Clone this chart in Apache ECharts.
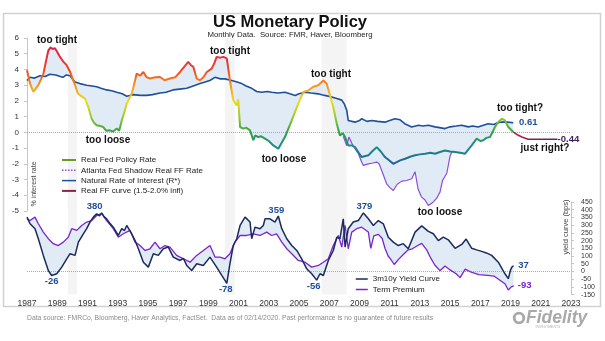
<!DOCTYPE html>
<html>
<head>
<meta charset="utf-8">
<script src="https://cdn.jsdelivr.net/npm/echarts@6/dist/echarts.min.js"></script>
<style>
html,body{margin:0;padding:0;background:#fff;}
#chart{width:605px;height:341px;}
</style>
</head>
<body>
<div id="chart"></div>
<script>
// ---- axis ticks ----
const xTickLabels = [1987,1989,1991,1993,1995,1997,1999,2001,2003,2005,2007,2009,2011,2013,2015,2017,2019,2021,2023];

// shaded recession periods [start, end] on the time axis
const recessions = [[1989.7,1990.3],[2000.1,2000.75],[2006.5,2008.15]];

// ---- top panel: rates in % ----
const realFedPolicyRate = [
  [1987.00,3.95],[1987.20,3.10],[1987.42,2.57],[1987.75,3.00],[1988.08,3.70],[1988.25,4.50],[1988.41,5.20],[1988.55,5.40],
  [1988.70,5.30],[1988.85,5.35],[1988.97,5.15],[1989.15,4.85],[1989.40,4.50],[1989.60,4.30],[1989.85,3.85],[1990.18,3.00],
  [1990.35,2.50],[1990.51,2.35],[1990.84,2.15],[1991.06,1.60],[1991.28,0.87],[1991.45,0.60],[1991.61,0.45],[1991.85,0.40],
  [1992.05,0.34],[1992.25,0.10],[1992.49,0.13],[1992.70,0.05],[1992.94,0.24],[1993.10,0.10],[1993.27,0.76],[1993.45,1.30],
  [1993.60,1.83],[1993.93,2.46],[1994.10,3.10],[1994.26,3.74],[1994.50,3.60],[1994.70,3.84],[1994.90,3.52],[1995.14,3.42],
  [1995.50,3.50],[1995.80,3.52],[1996.10,3.31],[1996.46,3.42],[1996.80,3.50],[1997.13,3.84],[1997.40,4.16],[1997.67,4.48],
  [1997.85,4.27],[1998.01,4.16],[1998.23,3.42],[1998.45,3.31],[1998.67,3.50],[1998.90,3.84],[1999.22,4.05],[1999.40,4.40],
  [1999.55,4.80],[1999.80,4.75],[1999.99,4.80],[2000.22,4.70],[2000.43,3.30],[2000.65,2.04],[2000.88,1.72],[2000.98,2.10],
  [2001.10,0.34],[2001.31,0.24],[2001.50,0.30],[2001.76,0.13],[2001.98,-0.50],[2002.10,-0.20],[2002.31,-0.30],[2002.50,-0.25],
  [2002.75,-0.40],[2003.00,-0.55],[2003.30,-0.83],[2003.63,-1.04],[2004.07,-0.30],[2004.52,0.76],[2004.95,1.83],[2005.29,2.57],
  [2005.62,2.67],[2005.95,2.90],[2006.28,3.00],[2006.45,3.15],[2006.61,3.30],[2006.83,3.10],[2007.05,2.36],[2007.27,1.60],
  [2007.50,0.55],[2007.71,-0.20],[2007.90,-0.05],[2008.05,-0.30],[2008.26,-0.83],[2008.49,-0.83],[2008.71,-0.94],[2008.95,-1.30],
  [2009.15,-1.57],[2009.59,-1.46],[2009.85,-1.20],[2010.14,-0.94],[2010.40,-1.20],[2010.69,-1.57],[2011.00,-1.80],[2011.24,-2.00],
  [2011.69,-1.78],[2012.02,-1.68],[2012.35,-1.55],[2012.68,-1.46],[2013.00,-1.40],[2013.34,-1.36],[2013.70,-1.30],[2014.00,-1.36],
  [2014.33,-1.25],[2014.66,-1.15],[2015.00,-1.22],[2015.33,-1.25],[2015.66,-1.30],[2015.99,-1.36],[2016.20,-1.10],[2016.43,-0.83],
  [2016.76,-0.40],[2017.00,-0.55],[2017.20,-0.50],[2017.40,-0.35],[2017.64,-0.30],[2017.97,0.34],[2018.19,0.66],[2018.42,0.87],
  [2018.63,0.76],[2018.85,0.34],[2019.18,0.02]
];

const naturalRate = [
  [1987.00,3.30],[1987.20,3.50],[1987.50,3.45],[1987.86,3.60],[1988.20,3.55],[1988.52,3.70],[1988.90,3.65],[1989.20,3.55],
  [1989.38,3.50],[1989.60,3.65],[1989.85,3.60],[1990.05,3.35],[1990.18,3.20],[1990.50,3.10],[1990.95,3.00],[1991.30,2.95],
  [1991.61,2.90],[1991.90,2.80],[1992.27,2.70],[1992.60,2.65],[1992.94,2.55],[1993.30,2.45],[1993.60,2.30],[1993.80,2.35],
  [1994.02,2.40],[1994.50,2.35],[1994.92,2.35],[1995.30,2.40],[1995.80,2.50],[1996.20,2.55],[1996.66,2.70],[1997.10,2.75],
  [1997.57,2.80],[1998.00,2.95],[1998.45,3.10],[1998.78,3.20],[1999.10,3.30],[1999.44,3.50],[1999.80,3.40],[2000.10,3.40],
  [2000.55,3.30],[2000.90,3.20],[2001.21,3.10],[2001.50,2.95],[2001.87,2.80],[2002.20,2.60],[2002.53,2.55],[2002.90,2.60],
  [2003.19,2.55],[2003.60,2.50],[2004.07,2.55],[2004.40,2.45],[2004.74,2.35],[2005.00,2.45],[2005.40,2.55],[2005.80,2.50],
  [2006.26,2.45],[2006.70,2.35],[2007.17,2.25],[2007.50,2.15],[2007.83,2.05],[2008.00,1.80],[2008.16,1.40],[2008.26,0.75],
  [2008.71,0.65],[2009.00,0.75],[2009.15,0.87],[2009.50,0.70],[2009.81,0.75],[2010.20,0.70],[2010.69,0.65],[2011.00,0.75],
  [2011.35,0.87],[2011.69,0.80],[2012.00,0.55],[2012.46,0.34],[2012.90,0.45],[2013.20,0.40],[2013.56,0.45],[2014.00,0.35],
  [2014.30,0.30],[2014.66,0.24],[2015.00,0.35],[2015.40,0.40],[2015.77,0.45],[2016.20,0.35],[2016.50,0.40],[2016.85,0.34],
  [2017.20,0.45],[2017.51,0.55],[2017.90,0.50],[2018.10,0.60],[2018.42,0.66],[2018.80,0.65],[2019.18,0.61]
];

const shadowRate = [
  [2007.93,-0.25],[2008.16,-0.85],[2008.30,-0.30],[2008.50,-0.70],[2008.70,-1.04],[2008.93,-1.36],[2009.15,-1.90],[2009.26,-2.10],
  [2009.59,-2.00],[2009.90,-1.95],[2010.14,-1.89],[2010.30,-2.00],[2010.47,-2.42],[2010.80,-3.27],[2011.00,-3.50],[2011.24,-3.70],
  [2011.50,-3.30],[2011.80,-3.10],[2012.13,-3.06],[2012.46,-2.95],[2012.68,-2.50],[2012.88,-3.60],[2013.10,-4.10],[2013.34,-4.30],
  [2013.56,-4.65],[2013.87,-4.44],[2014.10,-4.20],[2014.33,-3.80],[2014.50,-3.06],[2014.78,-2.60],[2015.00,-1.50],[2015.11,-1.25]
];

const realFFCurve = [[2019.18,0.02],[2019.45,-0.15],[2019.75,-0.30],[2020.16,-0.44],[2022.10,-0.44]];

// ---- bottom panel: yield curve in bps ----
const yieldCurve = [
  [1987.00,352],[1987.20,309],[1987.53,277],[1987.75,212],[1988.08,104],[1988.41,6],[1988.63,-26],[1988.97,-15],
  [1989.30,28],[1989.63,82],[1989.85,115],[1990.18,104],[1990.40,190],[1990.73,244],[1990.95,277],[1991.17,320],
  [1991.39,352],[1991.61,374],[1991.80,360],[1991.94,380],[1992.10,355],[1992.27,341],[1992.50,310],[1992.71,287],
  [1993.04,233],[1993.27,277],[1993.45,265],[1993.60,298],[1993.93,244],[1994.15,200],[1994.37,147],[1994.70,60],
  [1995.03,28],[1995.36,115],[1995.69,104],[1996.02,147],[1996.35,158],[1996.68,93],[1997.13,71],[1997.35,85],
  [1997.57,39],[1997.90,6],[1998.23,50],[1998.67,39],[1999.11,93],[1999.22,93],[1999.55,28],[1999.89,-26],
  [2000.10,-58],[2000.22,-78],[2000.43,50],[2000.65,168],[2000.88,212],[2001.10,298],[2001.43,352],[2001.76,320],
  [2001.87,212],[2002.09,287],[2002.42,277],[2002.64,298],[2002.75,341],[2003.08,341],[2003.41,320],[2003.63,359],
  [2003.86,277],[2004.19,212],[2004.52,168],[2004.85,136],[2005.18,82],[2005.51,17],[2005.84,-15],[2006.17,-56],
  [2006.39,-15],[2006.61,-26],[2006.94,71],[2007.27,136],[2007.50,222],[2007.71,212],[2007.93,341],[2008.05,158],
  [2008.26,277],[2008.59,320],[2008.93,330],[2009.10,355],[2009.26,379],[2009.59,341],[2009.92,298],[2010.25,330],
  [2010.58,309],[2010.91,222],[2011.24,190],[2011.57,168],[2011.90,180],[2012.23,147],[2012.68,255],[2013.12,295],
  [2013.56,260],[2013.89,244],[2014.22,200],[2014.55,222],[2014.88,205],[2015.33,150],[2015.77,175],[2016.06,210],
  [2016.43,150],[2016.75,140],[2017.09,130],[2017.40,120],[2017.75,104],[2018.19,60],[2018.63,-15],[2018.85,-47],
  [2019.00,10],[2019.10,30],[2019.20,37]
];

const termPremium = [
  [1987.00,341],[1987.20,330],[1987.53,352],[1987.75,309],[1988.08,255],[1988.41,212],[1988.74,180],[1989.07,168],
  [1989.40,190],[1989.73,222],[1989.96,277],[1990.29,266],[1990.62,298],[1990.95,320],[1991.28,330],[1991.61,363],
  [1991.94,375],[1992.27,330],[1992.71,277],[1993.04,222],[1993.37,244],[1993.82,266],[1994.15,190],[1994.48,168],
  [1994.81,136],[1995.14,147],[1995.47,190],[1995.80,147],[1996.13,168],[1996.46,158],[1996.90,104],[1997.35,82],
  [1997.79,60],[1998.23,104],[1998.67,136],[1999.11,168],[1999.44,93],[1999.77,93],[2000.10,82],[2000.43,115],
  [2000.76,190],[2001.10,233],[2001.54,233],[2001.98,244],[2002.42,233],[2002.86,255],[2003.19,233],[2003.52,244],
  [2003.86,190],[2004.19,147],[2004.52,115],[2004.95,71],[2005.40,60],[2005.84,28],[2006.28,39],[2006.61,60],
  [2006.94,82],[2007.27,168],[2007.60,233],[2007.83,158],[2008.05,298],[2008.26,147],[2008.49,255],[2008.82,277],
  [2009.15,287],[2009.59,255],[2009.75,150],[2009.95,230],[2010.25,240],[2010.50,215],[2010.69,150],[2010.90,100],
  [2011.10,75],[2011.30,45],[2011.60,80],[2011.90,110],[2012.23,140],[2012.50,147],[2012.80,165],[2013.12,182],
  [2013.45,140],[2013.70,90],[2014.00,40],[2014.33,5],[2014.66,35],[2015.00,10],[2015.40,-15],[2015.66,-40],
  [2016.00,15],[2016.40,-5],[2016.90,-20],[2017.50,-26],[2017.90,-30],[2018.20,-50],[2018.63,-80],[2018.85,-120],
  [2019.05,-100],[2019.20,-93]
];

// ---- styling ----
const FONT = 'Liberation Sans, Arial, Helvetica, sans-serif';
const C = {
  natural: '#1f4f9c',
  shadow: '#8a4ddb',
  yieldCurve: '#1b2a5c',
  term: '#7a24cc',
  fill: '#e1ebf6',
  band: '#f4f4f4',
  label: '#1f4f9a'
};

function pointAt(arr, yr) { return arr.find(d => d[0] === yr); }

// value tag drawn at an existing data point, text taken from that point
function valueTag(arr, yr, offset, color) {
  const p = pointAt(arr, yr);
  return { coord: [p[0], p[1]], value: p[1], label: { offset: offset, color: color } };
}

const tagStyle = {
  symbol: 'circle', symbolSize: 1, itemStyle: { color: 'rgba(0,0,0,0)' },
  label: { show: true, position: 'inside', fontFamily: FONT, fontSize: 9.5, fontWeight: 'bold',
           formatter: p => String(p.value) },
  silent: true
};

// filled region between two lines, drawn through the axis scales
function betweenLines(upper, lower, xi, yi, color) {
  return {
    type: 'custom', xAxisIndex: xi, yAxisIndex: yi, silent: true, z: 2, clip: true,
    data: [upper[0]],
    renderItem: function (params, api) {
      const pts = upper.map(p => api.coord(p)).concat(lower.slice().reverse().map(p => api.coord(p)));
      return { type: 'polygon', shape: { points: pts }, style: { fill: color } };
    }
  };
}

const shadowStart = shadowRate[0][0], shadowEnd = shadowRate[shadowRate.length - 1][0];
const naturalDuringShadow = naturalRate.filter(p => p[0] >= shadowStart && p[0] <= shadowEnd);

const bandAreas = recessions.map(r => [{ xAxis: r[0] }, { xAxis: r[1] }]);
const zeroLine = {
  silent: true, symbol: ['none', 'none'], label: { show: false },
  lineStyle: { type: 'dotted', color: '#a8a8a8', width: 1 }, data: [{ yAxis: 0 }]
};

// legend entries show only a short line, no marker
const hiddenMarker = { opacity: 0 };

const chart = echarts.init(document.getElementById('chart'), null, { renderer: 'canvas' });

const annotations = [
  ['too tight', 57, 40], ['too tight', 230, 51], ['too tight', 331, 74], ['too tight?', 520, 108],
  ['too loose', 108, 140], ['too loose', 284, 159], ['too loose', 440, 212], ['just right?', 545, 148]
];

const option = {
  animation: false,
  backgroundColor: '#ffffff',
  textStyle: { fontFamily: FONT },
  grid: [
    { left: 27, right: 34, top: 38, height: 173, outerBoundsMode: 'none', containLabel: false },
    { left: 27, right: 34, top: 202, height: 92.6, outerBoundsMode: 'none', containLabel: false }
  ],
  xAxis: [
    { gridIndex: 0, type: 'value', min: 1987, max: 2023, show: false },
    { gridIndex: 1, type: 'value', min: 1987, max: 2023,
      axisLine: { show: false }, axisTick: { show: false }, splitLine: { show: false },
      axisLabel: { customValues: xTickLabels, formatter: v => String(v), fontSize: 8.5, color: '#333', margin: 5, fontFamily: FONT } }
  ],
  yAxis: [
    { gridIndex: 0, type: 'value', min: -5, max: 6, interval: 1,
      axisLine: { show: true, lineStyle: { color: '#c6c6c6' } },
      axisTick: { show: true, length: 3, lineStyle: { color: '#c6c6c6' } },
      axisLabel: { fontSize: 8, color: '#333', margin: 8, fontFamily: FONT },
      splitLine: { show: false } },
    { gridIndex: 1, type: 'value', position: 'right', min: -150, max: 450, interval: 50,
      axisLine: { show: true, lineStyle: { color: '#c6c6c6' } },
      axisTick: { show: true, length: 3, lineStyle: { color: '#c6c6c6' } },
      axisLabel: { fontSize: 7, color: '#333', margin: 10, fontFamily: FONT },
      splitLine: { show: false } }
  ],
  visualMap: [{
    type: 'continuous', show: false, seriesIndex: 5, dimension: 1, min: -2, max: 6,
    inRange: { color: ['#1f5f9a', '#1a8c86', '#2ea043', '#9ccc2e', '#ecdc1c', '#f5931e', '#ee4426', '#e5283e', '#dc1460'] }
  }],
  legend: [
    { left: 61, top: 156, padding: 0, orient: 'vertical', itemWidth: 14, itemHeight: 8, itemGap: 2.3, selectedMode: false,
      textStyle: { fontSize: 8, color: '#222', fontFamily: FONT, lineHeight: 8 },
      data: [
        { name: 'Real Fed Policy Rate', itemStyle: hiddenMarker, lineStyle: { color: '#6e9a2c', width: 2 } },
        { name: 'Atlanta Fed Shadow Real FF Rate', itemStyle: hiddenMarker, lineStyle: { color: C.shadow, width: 1.5, type: 'dotted' } },
        { name: 'Natural Rate of Interest (R*)', itemStyle: hiddenMarker, lineStyle: { color: C.natural, width: 1.5 } },
        { name: 'Real FF curve (1.5-2.0% infl)', itemStyle: hiddenMarker, lineStyle: { color: '#8a2446', width: 2 } }
      ] },
    { left: 355, top: 275, padding: 0, orient: 'vertical', itemWidth: 12, itemHeight: 8, itemGap: 2.5, selectedMode: false,
      textStyle: { fontSize: 8, color: '#222', fontFamily: FONT, lineHeight: 8 },
      data: [
        { name: '3m10y Yield Curve', itemStyle: hiddenMarker, lineStyle: { color: C.yieldCurve, width: 1.5 } },
        { name: 'Term Premium', itemStyle: hiddenMarker, lineStyle: { color: C.term, width: 1.5 } }
      ] }
  ],
  series: [
    // 0: recession shading, top panel
    { type: 'line', xAxisIndex: 0, yAxisIndex: 0, data: [[1987, 0]], symbol: 'none', silent: true, z: 1,
      lineStyle: { opacity: 0 }, markArea: { silent: true, itemStyle: { color: C.band }, data: bandAreas } },
    // 1: recession shading, bottom panel
    { type: 'line', xAxisIndex: 1, yAxisIndex: 1, data: [[1987, 0]], symbol: 'none', silent: true, z: 1,
      lineStyle: { opacity: 0 }, markArea: { silent: true, itemStyle: { color: C.band }, data: bandAreas } },
    // 2-4: fills between lines
    betweenLines(naturalRate, realFedPolicyRate, 0, 0, C.fill),
    betweenLines(naturalDuringShadow, shadowRate, 0, 0, C.fill),
    betweenLines(yieldCurve, termPremium, 1, 1, C.fill),
    // 5: policy rate, coloured by level
    { name: 'Real Fed Policy Rate', type: 'line', xAxisIndex: 0, yAxisIndex: 0, data: realFedPolicyRate,
      symbol: 'none', z: 6, lineStyle: { width: 2 } },
    // 6
    { name: 'Atlanta Fed Shadow Real FF Rate', type: 'line', xAxisIndex: 0, yAxisIndex: 0, data: shadowRate,
      symbol: 'none', z: 5, lineStyle: { width: 1.2, color: C.shadow }, itemStyle: { color: C.shadow } },
    // 7
    { name: 'Natural Rate of Interest (R*)', type: 'line', xAxisIndex: 0, yAxisIndex: 0, data: naturalRate,
      symbol: 'none', z: 5, lineStyle: { width: 1.6, color: C.natural }, itemStyle: { color: C.natural },
      markLine: zeroLine,
      markPoint: Object.assign({}, tagStyle, { data: [valueTag(naturalRate, 2019.18, [15, 0], C.label)] }) },
    // 8
    { name: 'Real FF curve (1.5-2.0% infl)', type: 'line', xAxisIndex: 0, yAxisIndex: 0, data: realFFCurve,
      symbol: 'none', z: 5, itemStyle: { color: '#8a2446' },
      lineStyle: { width: 1.6, color: { type: 'linear', x: 0, y: 0, x2: 1, y2: 0,
        colorStops: [{ offset: 0, color: '#c0283c' }, { offset: 0.5, color: '#8a2040' }, { offset: 1, color: '#4a2a78' }] } },
      markPoint: Object.assign({}, tagStyle, { data: [valueTag(realFFCurve, 2022.10, [11, 0], '#3c1e63')] }) },
    // 9
    { name: '3m10y Yield Curve', type: 'line', xAxisIndex: 1, yAxisIndex: 1, data: yieldCurve,
      symbol: 'none', z: 6, lineStyle: { width: 1.5, color: C.yieldCurve }, itemStyle: { color: C.yieldCurve },
      markLine: zeroLine,
      markPoint: Object.assign({}, tagStyle, { data: [
        valueTag(yieldCurve, 1988.63, [0, 6], C.label),
        valueTag(yieldCurve, 1991.94, [-7, -6], C.label),
        valueTag(yieldCurve, 2000.22, [-1, 6], C.label),
        valueTag(yieldCurve, 2003.63, [-2, -6], C.label),
        valueTag(yieldCurve, 2006.17, [-3, 6], C.label),
        valueTag(yieldCurve, 2009.26, [1, -7], C.label),
        valueTag(yieldCurve, 2019.20, [10, 0], C.label)
      ] }) },
    // 10
    { name: 'Term Premium', type: 'line', xAxisIndex: 1, yAxisIndex: 1, data: termPremium,
      symbol: 'none', z: 5, lineStyle: { width: 1.3, color: C.term }, itemStyle: { color: C.term },
      markPoint: Object.assign({}, tagStyle, { data: [valueTag(termPremium, 2019.20, [11, 0], C.term)] }) }
  ],
  graphic: [
    { type: 'rect', z: 0, silent: true, shape: { x: 3.5, y: 13.5, width: 597, height: 293 },
      style: { fill: 'none', stroke: '#d2d2d2', lineWidth: 1.5 } },
    { type: 'text', x: 290, y: 22.5, silent: true,
      style: { text: 'US Monetary Policy', font: 'bold 16.5px ' + FONT, fill: '#111', textAlign: 'center', textVerticalAlign: 'middle' } },
    { type: 'text', x: 290, y: 34.5, silent: true,
      style: { text: 'Monthly Data.  Source: FMR, Haver, Bloomberg', font: '7.8px ' + FONT, fill: '#222', textAlign: 'center', textVerticalAlign: 'middle' } },
    { type: 'text', x: 34, y: 184, rotation: Math.PI / 2, silent: true,
      style: { text: '% interest rate', font: '7px ' + FONT, fill: '#444', textAlign: 'center', textVerticalAlign: 'middle' } },
    { type: 'text', x: 566, y: 227, rotation: Math.PI / 2, silent: true,
      style: { text: 'yield curve (bps)', font: '7.5px ' + FONT, fill: '#444', textAlign: 'center', textVerticalAlign: 'middle' } },
    { type: 'text', x: 27, y: 318, silent: true,
      style: { text: 'Data source: FMRCo, Bloomberg, Haver Analytics, FactSet.  Data as of 02/14/2020. Past performance is no guarantee of future results',
               font: '6.8px ' + FONT, fill: '#8c8c8c', textAlign: 'left', textVerticalAlign: 'middle' } },
    { type: 'circle', silent: true, shape: { cx: 519, cy: 318, r: 4.8 },
      style: { fill: 'none', stroke: '#a9a9a9', lineWidth: 2.8 } },
    { type: 'text', x: 526, y: 318, silent: true,
      style: { text: 'Fidelity', font: 'italic bold 17.5px ' + FONT, fill: '#a9a9a9', textAlign: 'left', textVerticalAlign: 'middle' } },
    { type: 'text', x: 548, y: 327, silent: true,
      style: { text: 'INVESTMENTS', font: '3.5px ' + FONT, fill: '#b5b5b5', textAlign: 'center', textVerticalAlign: 'middle' } }
  ].concat(annotations.map(a => ({
    type: 'text', x: a[1], y: a[2], silent: true, z: 20,
    style: { text: a[0], font: 'bold 10px ' + FONT, fill: '#111', textAlign: 'center', textVerticalAlign: 'middle' }
  })))
};

chart.setOption(option);
</script>
</body>
</html>
